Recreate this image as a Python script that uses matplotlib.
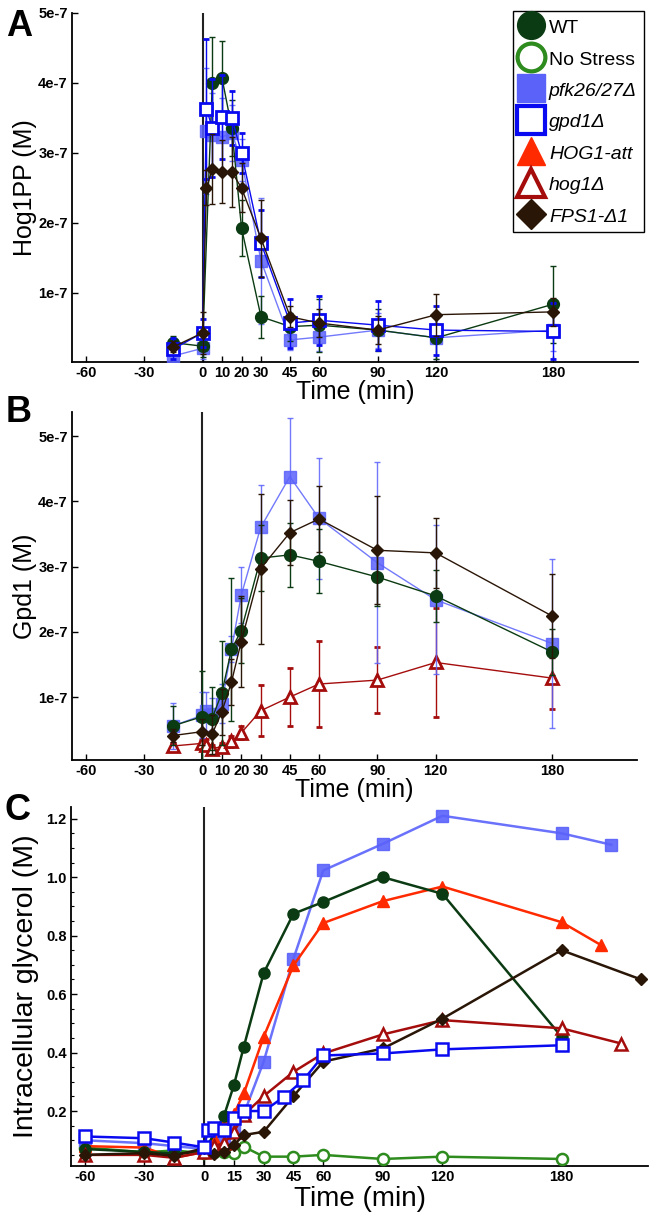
import matplotlib
matplotlib.use('Agg')
import matplotlib.pyplot as plt
from matplotlib.lines import Line2D
from matplotlib.ticker import AutoMinorLocator

plt.rcParams['font.family'] = ['Liberation Sans', 'DejaVu Sans']

# ---------------- data ----------------
SCALE = 1e-7  # panels A and B values are given in units of 1e-7 M

# Panel A: Hog1PP
A_t_wt = [-15, 0, 5, 10, 15, 20, 30, 45, 60, 90, 120, 180]
A_wt = [0.29, 0.24, 4.00, 4.07, 3.36, 1.93, 0.66, 0.52, 0.54, 0.47, 0.36, 0.84]
A_wt_err = [0.10, 0.15, 0.65, 0.53, 0.40, 0.40, 0.30, 0.20, 0.38, 0.30, 0.30, 0.55]

A_t_mut = [-15, 0, 2, 5, 10, 15, 20, 30, 45, 60, 90, 120, 180]
A_pfk = [0.10, 0.21, 3.31, 3.26, 3.23, 3.28, 2.90, 1.46, 0.33, 0.37, 0.47, 0.36, 0.47]
A_pfk_err = [0.10, 0.15, 0.90, 0.60, 0.55, 0.40, 0.30, 0.90, 0.15, 0.20, 0.25, 0.30, 0.30]
A_gpd = [0.20, 0.43, 3.63, 3.36, 3.51, 3.50, 3.00, 1.71, 0.57, 0.61, 0.54, 0.47, 0.45]
A_gpd_err = [0.15, 0.20, 1.00, 0.70, 0.60, 0.38, 0.28, 0.48, 0.35, 0.35, 0.35, 0.35, 0.40]
A_fps = [0.23, 0.43, 2.50, 2.77, 2.73, 2.73, 2.50, 1.78, 0.66, 0.57, 0.47, 0.69, 0.73]
A_fps_err = [0.08, 0.30, 0.25, 0.50, 0.45, 0.50, 0.35, 0.55, 0.15, 0.20, 0.20, 0.30, 0.20]

# Panel B: Gpd1
B_t_wt = [-15, 0, 5, 10, 15, 20, 30, 45, 60, 90, 120, 180]
B_wt = [0.56, 0.70, 0.67, 1.06, 1.73, 2.02, 3.13, 3.18, 3.08, 2.84, 2.55, 1.69]
B_wt_err = [0.30, 0.70, 0.48, 0.80, 1.10, 0.50, 0.50, 0.49, 0.49, 0.45, 0.40, 0.35]
B_t_pfk = [-15, 0, 2, 5, 10, 15, 20, 30, 45, 60, 90, 120, 180]
B_pfk = [0.56, 0.72, 0.78, 0.74, 0.90, 1.73, 2.56, 3.60, 4.38, 3.74, 3.06, 2.49, 1.82]
B_pfk_err = [0.35, 0.35, 0.30, 0.25, 0.30, 0.20, 0.43, 0.65, 0.90, 0.93, 1.54, 1.14, 1.29]
B_t_fps = [-15, 0, 5, 10, 15, 20, 30, 45, 60, 90, 120, 180]
B_fps = [0.41, 0.47, 0.43, 0.77, 1.23, 1.85, 2.97, 3.52, 3.73, 3.25, 3.21, 2.24]
B_fps_err = [0.10, 0.20, 0.30, 0.35, 0.35, 0.70, 1.15, 0.50, 0.50, 0.83, 0.54, 0.64]
B_t_hog = [-15, 0, 2, 5, 10, 15, 20, 30, 45, 60, 90, 120, 180]
B_hog = [0.25, 0.29, 0.27, 0.21, 0.24, 0.32, 0.45, 0.79, 1.00, 1.20, 1.26, 1.53, 1.29]
B_hog_err = [0.05, 0.05, 0.08, 0.05, 0.06, 0.08, 0.10, 0.39, 0.44, 0.66, 0.50, 0.83, 0.48]

# Panel C: intracellular glycerol (M)
C_t_wt = [-60, -30, -15, 0, 10, 15, 20, 30, 45, 60, 90, 120, 180]
C_wt = [0.07, 0.06, 0.055, 0.06, 0.183, 0.288, 0.42, 0.672, 0.875, 0.915, 1.00, 0.943, 0.454]
C_t_ns = [-60, -30, -15, 0, 5, 10, 15, 20, 30, 45, 60, 90, 120, 180]
C_ns = [0.075, 0.059, 0.065, 0.056, 0.059, 0.059, 0.056, 0.078, 0.044, 0.044, 0.05, 0.036, 0.044, 0.036]
C_t_pfk = [-60, -30, -15, 0, 10, 15, 20, 30, 45, 60, 90, 120, 180, 205]
C_pfk = [0.10, 0.09, 0.08, 0.07, 0.10, 0.14, 0.19, 0.369, 0.721, 1.023, 1.114, 1.21, 1.15, 1.111]
C_t_gpd = [-60, -30, -15, 0, 2, 5, 10, 15, 20, 30, 40, 50, 60, 90, 120, 180]
C_gpd = [0.113, 0.107, 0.092, 0.076, 0.135, 0.141, 0.135, 0.175, 0.20, 0.20, 0.247, 0.306, 0.39, 0.397, 0.411, 0.425]
C_t_att = [-60, -30, -15, 0, 5, 10, 15, 20, 30, 45, 60, 90, 120, 180, 200]
C_att = [0.08, 0.075, 0.04, 0.06, 0.107, 0.164, 0.19, 0.26, 0.454, 0.698, 0.843, 0.918, 0.968, 0.846, 0.767]
C_t_hog = [-60, -30, -15, 0, 5, 10, 15, 20, 30, 45, 60, 90, 120, 180, 210]
C_hog = [0.05, 0.05, 0.04, 0.06, 0.08, 0.09, 0.13, 0.187, 0.251, 0.334, 0.397, 0.462, 0.511, 0.483, 0.431]
C_t_fps = [-60, -30, -15, 0, 5, 10, 15, 20, 30, 45, 60, 90, 120, 180, 220]
C_fps = [0.05, 0.056, 0.047, 0.073, 0.052, 0.059, 0.084, 0.118, 0.129, 0.251, 0.369, 0.414, 0.516, 0.75, 0.65]

xticks_AB = [-60, -30, 0, 10, 20, 30, 45, 60, 90, 120, 180]
xticks_C = [-60, -30, 0, 15, 30, 45, 60, 90, 120, 180]
yticks_AB = [1, 2, 3, 4, 5]
yticklabels_AB = ['1e-7', '2e-7', '3e-7', '4e-7', '5e-7']
yticks_C = [0.2, 0.4, 0.6, 0.8, 1.0, 1.2]
yticklabels_C = ['0.2', '0.4', '0.6', '0.8', '1.0', '1.2']

legend_labels = ['WT', 'No Stress', 'pfk26/27Δ', 'gpd1Δ', 'HOG1-att', 'hog1Δ', 'FPS1-Δ1']

# ---------------- styles ----------------
C_WT = '#0b3b12'
C_NS = '#2e8b1e'
C_PFK = '#5a62fa'
C_GPD = '#0a0af0'
C_ATT = '#ff2a00'
C_HOG = '#a50d0d'
C_FPS = '#2a1607'

STY = {
    'WT': dict(color=C_WT, marker='o', mfc=C_WT, mec=C_WT),
    'NS': dict(color=C_NS, marker='o', mfc='white', mec=C_NS),
    'PFK': dict(color=C_PFK, marker='s', mfc=C_PFK, mec=C_PFK),
    'GPD': dict(color=C_GPD, marker='s', mfc='white', mec=C_GPD),
    'ATT': dict(color=C_ATT, marker='^', mfc=C_ATT, mec=C_ATT),
    'HOG': dict(color=C_HOG, marker='^', mfc='white', mec=C_HOG),
    'FPS': dict(color=C_FPS, marker='D', mfc=C_FPS, mec=C_FPS),
}
MS = {'o': 8.5, 's': 8.5, '^': 8.5, 'D': 6.5}

W, H = 656, 1218
fig = plt.figure(figsize=(W / 100, H / 100), dpi=100)


def ax_at(l, t, r, b):
    return fig.add_axes([l / W, 1 - b / H, (r - l) / W, (b - t) / H])


axA = ax_at(72, 13, 638, 362)
axB = ax_at(72, 412, 637, 760)
axC = ax_at(71, 807, 648, 1166)


def eplot(ax, key, t, y, err, lw=1.0, alpha=1.0, z=3):
    s = STY[key]
    open_m = s['mfc'] == 'white'
    ax.errorbar(t, [v * SCALE for v in y], yerr=[e * SCALE for e in err],
                color=s['color'], marker=s['marker'], mfc=s['mfc'], mec=s['mec'],
                ms=MS[s['marker']], mew=2.0 if open_m else 1.0, lw=lw,
                elinewidth=1.0, capsize=2.0, capthick=1.0, alpha=alpha, zorder=z)


def lplot(ax, key, t, y, z=3, alpha=1.0):
    s = STY[key]
    open_m = s['mfc'] == 'white'
    ms = MS[s['marker']] - (0.5 if s['marker'] != 'D' else 0.0)
    ax.plot(t, y, color=s['color'], marker=s['marker'], mfc=s['mfc'], mec=s['mec'],
            ms=ms, mew=1.8 if open_m else 1.0, lw=1.8, zorder=z, alpha=alpha)


# Panel A
eplot(axA, 'PFK', A_t_mut, A_pfk, A_pfk_err, alpha=0.85, z=3)
eplot(axA, 'WT', A_t_wt, A_wt, A_wt_err, z=4)
eplot(axA, 'GPD', A_t_mut, A_gpd, A_gpd_err, z=5)
eplot(axA, 'FPS', A_t_mut, A_fps, A_fps_err, z=6)

# Panel B
eplot(axB, 'HOG', B_t_hog, B_hog, B_hog_err, z=3)
eplot(axB, 'PFK', B_t_pfk, B_pfk, B_pfk_err, alpha=0.85, z=4)
eplot(axB, 'WT', B_t_wt, B_wt, B_wt_err, z=5)
eplot(axB, 'FPS', B_t_fps, B_fps, B_fps_err, z=6)

# Panel C
lplot(axC, 'NS', C_t_ns, C_ns, z=3)
lplot(axC, 'PFK', C_t_pfk, C_pfk, z=4, alpha=0.9)
lplot(axC, 'ATT', C_t_att, C_att, z=5)
lplot(axC, 'WT', C_t_wt, C_wt, z=6)
lplot(axC, 'HOG', C_t_hog, C_hog, z=7)
lplot(axC, 'FPS', C_t_fps, C_fps, z=8)
lplot(axC, 'GPD', C_t_gpd, C_gpd, z=9)

for ax in (axA, axB, axC):
    ax.axvline(0, color='#222222', lw=1.5, zorder=1)
    ax.spines['top'].set_visible(False)
    ax.spines['right'].set_visible(False)
    for sp in ('left', 'bottom'):
        ax.spines[sp].set_linewidth(1.3)
    ax.tick_params(direction='in', length=4, width=1.0, labelsize=10.5, pad=3)
    ax.set_xlim(-67, 223.5)
    for lab in ax.get_xticklabels() + ax.get_yticklabels():
        lab.set_fontweight('bold')

axA.set_ylim(0.014 * SCALE, 5.0 * SCALE)
axB.set_ylim(0.035 * SCALE, 5.37 * SCALE)
axC.set_ylim(0.012, 1.24)

TICKFONT = dict(fontsize=10.5, fontweight='bold')
for ax in (axA, axB):
    ax.set_xticks(xticks_AB)
    ax.set_xticklabels([str(v) for v in xticks_AB], **TICKFONT)
    ax.set_yticks([v * SCALE for v in yticks_AB])
    ax.set_yticklabels(yticklabels_AB, **TICKFONT)
axC.set_xticks(xticks_C)
axC.set_xticklabels([str(v) for v in xticks_C], **TICKFONT)
axC.set_yticks(yticks_C)
axC.set_yticklabels(yticklabels_C, **TICKFONT)
axC.yaxis.set_minor_locator(AutoMinorLocator(4))
axC.tick_params(axis='y', which='minor', direction='in', length=2.5, width=0.8)

axA.set_ylabel('Hog1PP (M)', fontsize=18, labelpad=1)
axB.set_ylabel('Gpd1 (M)', fontsize=18, labelpad=1)
axC.set_ylabel('Intracellular glycerol (M)', fontsize=20.5, labelpad=5)
axA.set_xlabel('Time (min)', fontsize=18, labelpad=0)
axB.set_xlabel('Time (min)', fontsize=18, labelpad=0)
axC.set_xlabel('Time (min)', fontsize=20, labelpad=1)

fig.text(6 / W, 1 - 36 / H, 'A', fontsize=26, fontweight='bold', va='baseline')
fig.text(6 / W, 1 - 422 / H, 'B', fontsize=26, fontweight='bold', va='baseline')
fig.text(5 / W, 1 - 820 / H, 'C', fontsize=26, fontweight='bold', va='baseline')

# Legend
keys = ['WT', 'NS', 'PFK', 'GPD', 'ATT', 'HOG', 'FPS']
handles = []
for k in keys:
    s = STY[k]
    open_m = s['mfc'] == 'white'
    ms = 20 if s['marker'] != 'D' else 15
    handles.append(Line2D([], [], linestyle='none', marker=s['marker'], mfc=s['mfc'],
                          mec=s['mec'], ms=ms, mew=3.0 if open_m else 1.0))
leg = fig.legend(handles, legend_labels, loc='upper left',
                 bbox_to_anchor=(513 / W, 1 - 11 / H), fontsize=14,
                 frameon=True, fancybox=False, edgecolor='black', framealpha=1,
                 handlelength=1.2, handleheight=1.0, handletextpad=0.3,
                 labelspacing=0.62, borderpad=0.35, borderaxespad=0)
leg.get_frame().set_linewidth(1.0)
for t in leg.get_texts()[2:]:
    t.set_fontstyle('italic')

fig.savefig('out.png', dpi=100)
